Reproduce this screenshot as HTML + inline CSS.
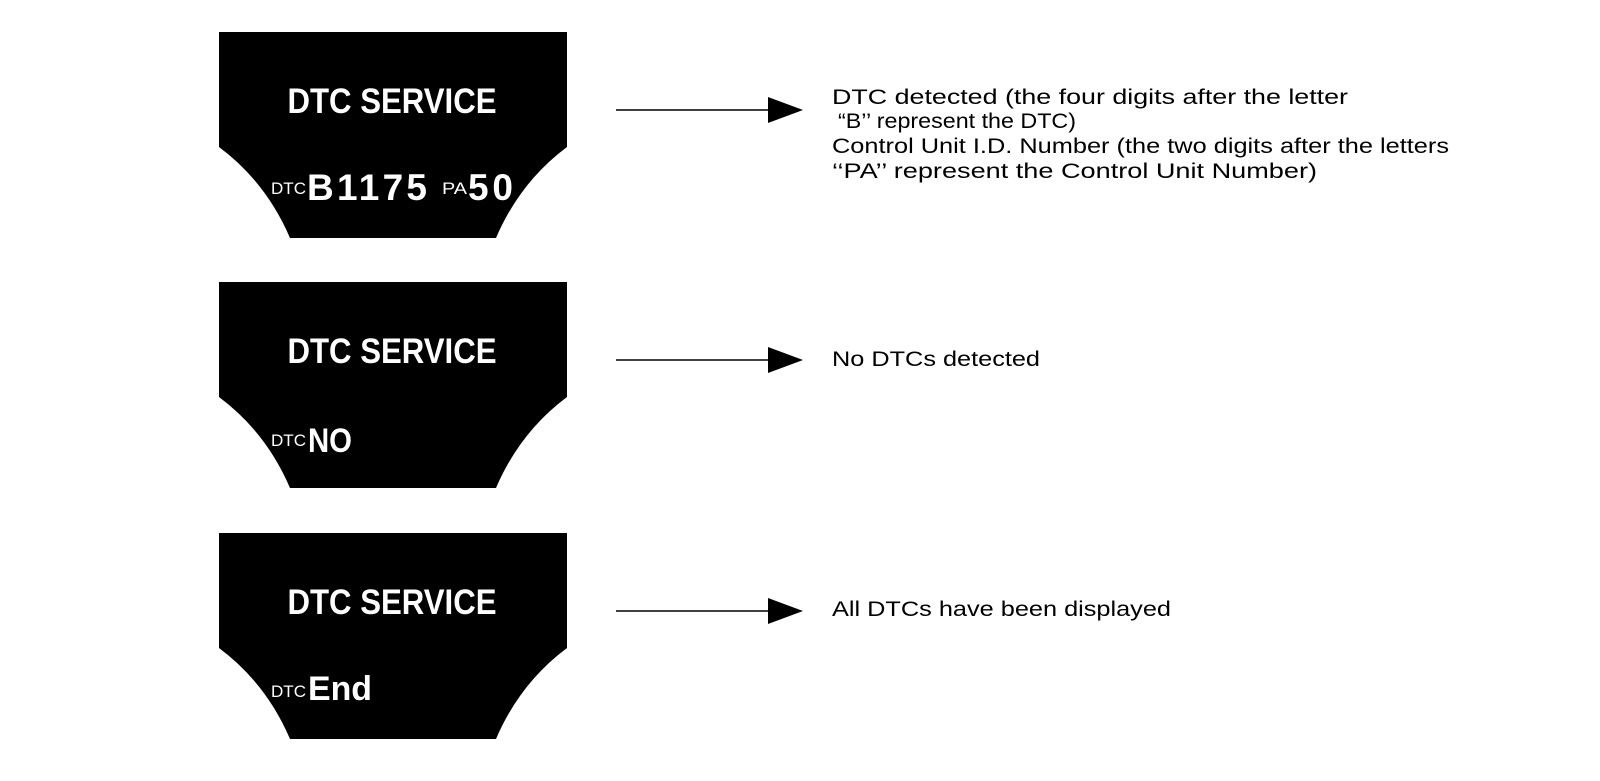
<!DOCTYPE html>
<html><head><meta charset="utf-8"><style>
html,body{margin:0;padding:0;background:#fff;}
svg{display:block;}
.t{font-family:"Liberation Sans",Arial,sans-serif;}
</style></head><body>
<svg width="1600" height="781" viewBox="0 0 1600 781" xmlns="http://www.w3.org/2000/svg">
<defs>
<g id="panel">
<path d="M219,0 L567,0 L567,115 Q520,150 496,206 L290,206 Q266,150 219,115 Z" fill="#000"/>
<text x="392" y="81" text-anchor="middle" class="t" font-weight="bold" font-size="35" fill="#fff" textLength="209" lengthAdjust="spacingAndGlyphs">DTC SERVICE</text>
</g>
</defs>
<g transform="translate(0,32)"><use href="#panel"/>
<text x="271" y="162" class="t" font-size="17" fill="#fff" textLength="35" lengthAdjust="spacingAndGlyphs">DTC</text>
<text x="307" y="168" class="t" font-weight="bold" font-size="37" fill="#fff" textLength="120" lengthAdjust="spacing">B1175</text>
<text x="442" y="162" class="t" font-size="17" fill="#fff" textLength="25" lengthAdjust="spacingAndGlyphs">PA</text>
<text x="468" y="168" class="t" font-weight="bold" font-size="37" fill="#fff" textLength="45" lengthAdjust="spacing">50</text>
</g>
<g transform="translate(0,282)"><use href="#panel"/>
<text x="271" y="164" class="t" font-size="17" fill="#fff" textLength="35" lengthAdjust="spacingAndGlyphs">DTC</text>
<text x="308" y="170" class="t" font-weight="bold" font-size="34" fill="#fff" textLength="44" lengthAdjust="spacingAndGlyphs">NO</text>
</g>
<g transform="translate(0,533)"><use href="#panel"/>
<text x="271" y="164" class="t" font-size="17" fill="#fff" textLength="35" lengthAdjust="spacingAndGlyphs">DTC</text>
<text x="308" y="167" class="t" font-weight="bold" font-size="34" fill="#fff" textLength="64" lengthAdjust="spacingAndGlyphs">End</text>
</g>
<g stroke="#000" stroke-width="1.5">
<line x1="616" y1="110" x2="772" y2="110"/>
<line x1="616" y1="360" x2="772" y2="360"/>
<line x1="616" y1="611" x2="772" y2="611"/>
</g>
<g fill="#000">
<polygon points="768,97 803,110 768,123"/>
<polygon points="768,347 803,360 768,373"/>
<polygon points="768,598 803,611 768,624"/>
</g>
<g class="t" font-size="21" fill="#000">
<text x="832" y="104" textLength="516" lengthAdjust="spacingAndGlyphs">DTC detected (the four digits after the letter</text>
<text x="838" y="128" textLength="238" lengthAdjust="spacingAndGlyphs">“B’’ represent the DTC)</text>
<text x="832" y="153" textLength="617" lengthAdjust="spacingAndGlyphs">Control Unit I.D. Number (the two digits after the letters</text>
<text x="832" y="178" textLength="485" lengthAdjust="spacingAndGlyphs">‘‘PA’’ represent the Control Unit Number)</text>
<text x="832" y="366" textLength="208" lengthAdjust="spacingAndGlyphs">No DTCs detected</text>
<text x="832" y="616" textLength="339" lengthAdjust="spacingAndGlyphs">All DTCs have been displayed</text>
</g>
</svg>
</body></html>
